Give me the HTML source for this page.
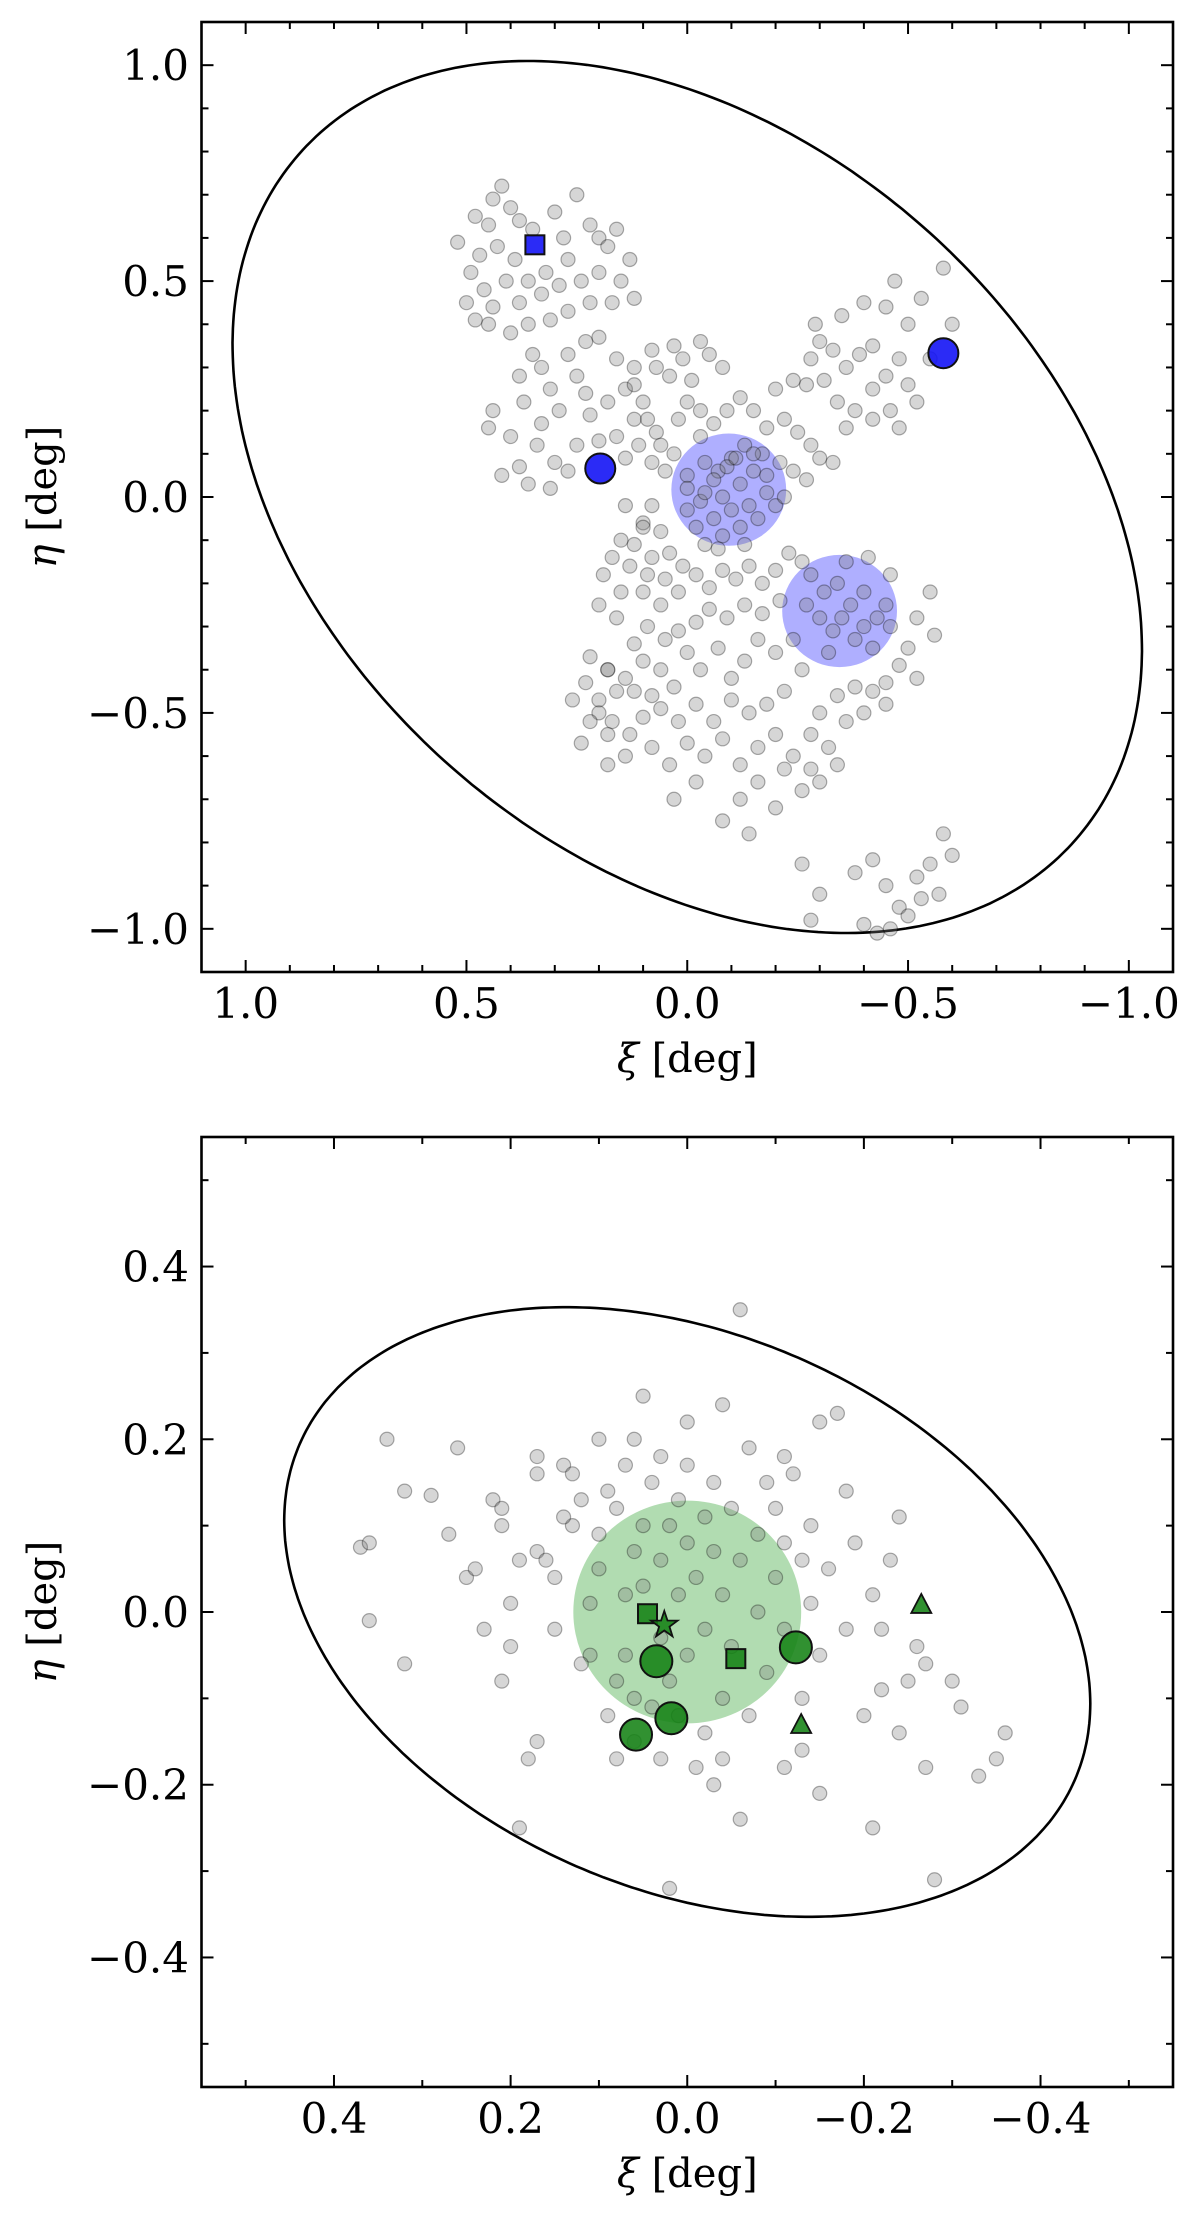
<!DOCTYPE html>
<html><head><meta charset="utf-8"><style>
html,body{margin:0;padding:0;background:#fff;}
svg{display:block;font-family:"DejaVu Serif","Liberation Serif",serif;}
</style></head><body>
<svg id="fig" width="1200" height="2224" viewBox="0 0 1200 2224" xmlns="http://www.w3.org/2000/svg"></svg>
<script>
// ---------- Panel 1 data ----------
const topGrayXi = [0.42,0.44,0.40,0.48,0.45,0.38,0.52,0.47,0.43,0.39,0.35,0.30,0.28,0.25,0.22,0.20,0.18,0.16,0.27,0.32,0.36,0.41,0.46,0.49,0.50,0.44,0.38,0.33,0.29,0.24,0.20,0.15,0.13,0.12,0.17,0.22,0.27,0.31,0.36,0.40,0.45,0.48,
0.35,0.33,0.38,0.31,0.27,0.23,0.20,0.25,0.29,0.33,0.37,0.44,0.45,0.40,0.34,0.30,0.38,0.42,0.36,0.31,0.27,0.25,0.22,0.18,0.14,0.16,0.12,0.08,0.07,0.12,0.16,0.20,0.23,0.03,0.04,0.01,-0.01,-0.03,-0.05,-0.08,
0.12,0.10,0.09,0.07,0.06,0.03,0.05,0.08,0.11,0.14,0.02,0.0,-0.03,-0.06,-0.09,-0.12,-0.15,-0.18,-0.22,-0.25,-0.28,-0.21,-0.17,-0.13,-0.10,-0.07,-0.04,0.0,-0.03,-0.30,-0.33,-0.24,-0.27,
0.0,-0.03,-0.06,-0.09,-0.12,-0.15,-0.18,-0.14,-0.10,-0.06,-0.02,0.0,-0.04,-0.08,-0.12,-0.16,-0.20,-0.08,-0.04,-0.11,-0.15,-0.18,-0.22,-0.07,-0.13,
0.06,0.10,0.12,0.15,0.08,0.04,0.01,0.05,0.09,0.13,0.17,0.19,0.15,0.10,0.06,0.02,-0.02,-0.05,-0.08,-0.11,-0.14,-0.17,-0.20,-0.23,-0.26,-0.21,-0.17,-0.13,-0.09,-0.05,-0.02,0.02,0.05,0.09,0.12,0.16,0.20,0.22,0.18,0.14,0.10,0.06,0.03,0.0,-0.03,-0.07,-0.10,-0.13,-0.16,-0.20,-0.24,-0.26,-0.22,-0.18,-0.14,-0.10,-0.06,-0.02,0.02,0.06,0.10,0.13,0.17,0.20,0.23,0.08,0.04,0.0,-0.04,-0.08,-0.12,-0.16,-0.20,-0.24,-0.28,-0.30,-0.34,-0.38,-0.42,-0.45,-0.48,-0.50,-0.46,-0.52,-0.55,-0.40,-0.36,-0.32,-0.28,-0.26,-0.16,-0.12,-0.08,-0.14,-0.20,-0.02,0.03,-0.22,-0.30,-0.34,-0.45,-0.52,-0.56,
-0.28,-0.31,-0.34,-0.37,-0.40,-0.43,-0.30,-0.33,-0.38,-0.42,-0.36,-0.41,-0.46,-0.45,-0.27,-0.32,-0.40,-0.35,
-0.26,-0.30,-0.28,-0.38,-0.42,-0.45,-0.48,-0.52,-0.55,-0.50,-0.46,-0.40,-0.43,-0.58,-0.60,-0.57,-0.53,
0.18,0.16,0.20,0.22,0.18,0.24,0.12,0.08,0.26,0.14,0.18,0.10,0.14,0.08,
-0.28,-0.30,-0.33,-0.36,-0.39,-0.42,-0.45,-0.48,-0.50,-0.52,-0.46,-0.42,-0.38,-0.34,-0.31,-0.27,-0.29,-0.35,-0.40,-0.45,-0.50,-0.53,-0.47,-0.58,-0.42,-0.55,-0.60,-0.36,-0.48,-0.20,-0.24];
const topGrayEta = [0.72,0.69,0.67,0.65,0.63,0.64,0.59,0.56,0.58,0.55,0.62,0.66,0.60,0.70,0.63,0.60,0.58,0.62,0.55,0.52,0.50,0.50,0.48,0.52,0.45,0.44,0.45,0.47,0.49,0.50,0.52,0.50,0.55,0.46,0.45,0.45,0.43,0.41,0.40,0.38,0.40,0.41,
0.33,0.30,0.28,0.25,0.33,0.36,0.37,0.28,0.20,0.17,0.22,0.20,0.16,0.14,0.12,0.08,0.07,0.05,0.03,0.02,0.06,0.12,0.19,0.22,0.25,0.32,0.30,0.34,0.30,0.18,0.14,0.13,0.24,0.35,0.28,0.32,0.27,0.36,0.33,0.30,
0.26,0.22,0.18,0.15,0.12,0.10,0.06,0.08,0.12,0.09,0.18,0.22,0.20,0.17,0.20,0.23,0.20,0.16,0.18,0.15,0.12,0.08,0.10,0.12,0.09,0.06,0.08,0.05,0.14,0.09,0.08,0.06,0.04,
0.02,-0.01,0.04,0.07,0.03,0.06,0.01,-0.02,-0.03,-0.05,-0.07,-0.03,0.01,0.00,-0.07,-0.05,-0.02,-0.09,-0.11,0.09,0.10,0.05,0.0,-0.12,-0.11,
-0.08,-0.06,-0.11,-0.10,-0.14,-0.13,-0.16,-0.19,-0.18,-0.16,-0.14,-0.18,-0.22,-0.22,-0.25,-0.22,-0.18,-0.21,-0.17,-0.19,-0.16,-0.20,-0.17,-0.13,-0.15,-0.24,-0.27,-0.25,-0.28,-0.26,-0.29,-0.31,-0.33,-0.30,-0.34,-0.28,-0.25,-0.37,-0.40,-0.42,-0.38,-0.40,-0.44,-0.36,-0.40,-0.35,-0.42,-0.38,-0.33,-0.36,-0.33,-0.40,-0.45,-0.48,-0.50,-0.47,-0.52,-0.48,-0.52,-0.49,-0.51,-0.55,-0.52,-0.47,-0.43,-0.58,-0.62,-0.57,-0.60,-0.56,-0.62,-0.58,-0.55,-0.60,-0.55,-0.50,-0.46,-0.44,-0.45,-0.43,-0.39,-0.35,-0.30,-0.28,-0.22,-0.50,-0.52,-0.58,-0.63,-0.68,-0.66,-0.70,-0.75,-0.78,-0.72,-0.66,-0.70,-0.63,-0.66,-0.62,-0.48,-0.42,-0.32,
-0.18,-0.22,-0.20,-0.25,-0.22,-0.28,-0.28,-0.31,-0.33,-0.35,-0.15,-0.14,-0.18,-0.25,-0.25,-0.36,-0.30,-0.28,
-0.85,-0.92,-0.98,-0.87,-0.84,-0.90,-0.95,-0.88,-0.85,-0.97,-1.0,-0.99,-1.01,-0.78,-0.83,-0.92,-0.93,
-0.40,-0.45,-0.50,-0.52,-0.55,-0.57,-0.45,-0.46,-0.47,-0.60,-0.62,-0.07,-0.02,-0.02,
0.32,0.36,0.34,0.30,0.33,0.35,0.28,0.32,0.26,0.22,0.20,0.18,0.20,0.22,0.27,0.26,0.40,0.42,0.45,0.44,0.40,0.46,0.50,0.53,0.25,0.32,0.40,0.16,0.16,0.25,0.27];
const topRegionXi = [-0.094,-0.345];
const topRegionEta = [0.017,-0.264];
const topRegionR = [0.13,0.13];
const topCircXi = [0.197,-0.58];
const topCircEta = [0.066,0.333];
const topSqXi = [0.345];
const topSqEta = [0.584];
const topEll = {a:1.185, b:0.822, angDeg:43.4};
const topTicks = [1.0,0.5,0.0,-0.5,-1.0];
const topTickLabels = ["1.0","0.5","0.0","\u22120.5","\u22121.0"];

// ---------- Panel 2 data ----------
const botGrayXi = [0.37,0.36,0.36,0.34,0.32,0.32,0.29,0.26,0.25,0.24,0.22,0.21,0.21,0.20,0.20,0.21,0.19,0.17,0.17,0.17,0.18,0.17,0.16,0.15,0.15,0.14,0.13,0.13,0.12,0.11,0.11,0.10,0.10,0.09,0.09,0.08,0.08,0.07,0.07,0.07,0.06,0.06,0.06,0.05,0.05,0.04,0.04,0.03,0.03,0.03,0.02,0.02,0.01,0.01,0.0,0.0,0.0,-0.01,-0.01,-0.02,-0.02,-0.03,-0.03,-0.04,-0.04,-0.05,-0.05,-0.06,-0.06,-0.07,-0.07,-0.08,-0.08,-0.09,-0.09,-0.10,-0.10,-0.11,-0.11,-0.12,-0.13,-0.13,-0.14,-0.14,-0.15,-0.15,-0.16,-0.17,-0.18,-0.19,-0.20,-0.21,-0.22,-0.22,-0.23,-0.24,-0.25,-0.26,-0.27,-0.27,-0.28,-0.30,-0.31,-0.33,-0.35,-0.36,-0.21,-0.15,-0.13,-0.11,-0.06,0.01,0.03,0.08,0.12,0.06,-0.02,0.02,-0.03,0.05,0.0,-0.04,0.10,-0.11,0.14,0.19,-0.18,-0.24,0.23,0.27,-0.04];
const botGrayEta = [0.075,0.08,-0.01,0.20,0.14,-0.06,0.135,0.19,0.04,0.05,0.13,0.12,0.10,0.01,-0.04,-0.08,-0.25,0.18,0.16,-0.15,-0.17,0.07,0.06,0.04,-0.02,0.17,0.16,0.10,0.13,0.01,-0.05,0.05,0.09,0.14,-0.12,0.12,-0.08,0.02,0.17,-0.05,0.07,0.20,-0.10,0.10,0.03,0.15,-0.11,0.06,-0.03,0.18,0.10,-0.08,0.13,0.02,-0.05,0.08,0.17,-0.18,0.04,0.11,-0.02,0.15,0.07,-0.10,0.02,0.12,-0.04,0.06,0.35,0.19,-0.12,0.09,0.00,0.15,-0.07,0.04,0.12,-0.02,0.08,0.16,0.06,-0.10,0.01,0.10,0.22,-0.05,0.05,0.23,-0.02,0.08,-0.12,0.02,-0.02,-0.09,0.06,-0.14,-0.08,-0.04,-0.06,-0.18,-0.31,-0.08,-0.11,-0.19,-0.17,-0.14,-0.25,-0.21,-0.16,-0.18,-0.24,-0.12,-0.17,-0.17,-0.06,-0.15,-0.14,-0.32,-0.20,0.25,0.22,0.24,0.20,0.18,0.11,0.06,0.14,0.11,-0.02,0.09,-0.17];
const botRegionXi = [0.0];
const botRegionEta = [0.0];
const botRegionR = [0.129];
const botCircXi = [0.035,0.018,0.058,-0.123];
const botCircEta = [-0.057,-0.123,-0.142,-0.041];
const botSqXi = [0.045,-0.055];
const botSqEta = [-0.002,-0.054];
const botStarXi = [0.026];
const botStarEta = [-0.015];
const botTriXi = [-0.265,-0.129];
const botTriEta = [0.007,-0.132];
const botEll = {a:0.480, b:0.320, angDeg:24.6};
const botTicks = [0.4,0.2,0.0,-0.2,-0.4];
const botTickLabels = ["0.4","0.2","0.0","\u22120.2","\u22120.4"];

const NS = "http://www.w3.org/2000/svg";
const svg = document.getElementById('fig');
function mk(tag, attrs, parent){
  const e = document.createElementNS(NS, tag);
  for (const k in attrs) e.setAttribute(k, attrs[k]);
  (parent||svg).appendChild(e);
  return e;
}

function panel(cfg){
  const g = mk('g', {});
  
  
  const X0=cfg.x0, X1=cfg.x1, Y0=cfg.y0, Y1=cfg.y1, L=cfg.lim;
  const sx = v => X0 + (L - v) / (2*L) * (X1 - X0);   // xi reversed
  const sy = v => Y0 + (L - v) / (2*L) * (Y1 - Y0);
  const kx = (X1-X0)/(2*L), ky = (Y1-Y0)/(2*L);
  const e = cfg.ell, th = e.angDeg*Math.PI/180;
  let d = '';
  for (let i=0;i<=360;i++){
    const t=i*Math.PI/180;
    const xi = e.a*Math.cos(t)*Math.cos(th) - e.b*Math.sin(t)*Math.sin(th);
    const et = e.a*Math.cos(t)*Math.sin(th) + e.b*Math.sin(t)*Math.cos(th);
    d += (i?'L':'M') + sx(xi).toFixed(1) + ' ' + sy(et).toFixed(1);
  }
  const ell = mk('path', {d:d+'Z', fill:'none', stroke:'#000', 'stroke-width':2.6}, g);
  
  
  cfg.regXi.forEach((v,i)=>{
    const c = mk('ellipse', {cx:sx(v), cy:sy(cfg.regEta[i]), rx:cfg.regR[i]*kx, ry:cfg.regR[i]*ky, fill:cfg.regColor}, g);
    
    
  });
  cfg.grayXi.forEach((v,i)=>{
    const c = mk('circle', {cx:sx(v), cy:sy(cfg.grayEta[i]), r:7, fill:'rgba(128,128,128,0.32)', stroke:'rgba(0,0,0,0.32)', 'stroke-width':1.2}, g);
    
    
  });
  const fc = cfg.markColor;
  (cfg.circXi||[]).forEach((v,i)=>{
    const c = mk('circle', {cx:sx(v), cy:sy(cfg.circEta[i]), r:cfg.circR, fill:fc, stroke:'#111', 'stroke-width':2}, g);
    
    
  });
  (cfg.sqXi||[]).forEach((v,i)=>{
    const s=cfg.sqS;
    const c = mk('rect', {x:sx(v)-s/2, y:sy(cfg.sqEta[i])-s/2, width:s, height:s, fill:fc, stroke:'#111', 'stroke-width':2}, g);
    
    
  });
  (cfg.starXi||[]).forEach((v,i)=>{
    const cx=sx(v), cy=sy(cfg.starEta[i]); let p='';
    for(let k=0;k<10;k++){const r=k%2?5.5:14; const a=-Math.PI/2+k*Math.PI/5; p+=(cx+r*Math.cos(a)).toFixed(1)+','+(cy+r*Math.sin(a)).toFixed(1)+' ';}
    const c = mk('polygon', {points:p, fill:fc, stroke:'#111', 'stroke-width':1.8}, g);
    
    
  });
  (cfg.triXi||[]).forEach((v,i)=>{
    const cx=sx(v), cy=sy(cfg.triEta[i]);
    const p=`${cx},${cy-12} ${cx+10},${cy+7} ${cx-10},${cy+7}`;
    const c = mk('polygon', {points:p, fill:fc, stroke:'#111', 'stroke-width':1.8}, g);
    
    
  });
  const fr = mk('rect', {x:X0, y:Y0, width:X1-X0, height:Y1-Y0, fill:'none', stroke:'#000', 'stroke-width':2.6}, g);
  
  
  const tg = mk('g', {stroke:'#000', 'stroke-width':2}, g);
  
  
  for (let k=-Math.floor(L/cfg.minor+1e-9); k<=Math.floor(L/cfg.minor+1e-9); k++){
    const v = k*cfg.minor;
    const major = Math.abs(v/cfg.major - Math.round(v/cfg.major))<1e-6;
    const len = major?12:7;
    const x=sx(v), y=sy(v);
    mk('line',{x1:x,y1:Y1,x2:x,y2:Y1-len},tg);
    mk('line',{x1:x,y1:Y0,x2:x,y2:Y0+len},tg);
    mk('line',{x1:X0,y1:y,x2:X0+len,y2:y},tg);
    mk('line',{x1:X1,y1:y,x2:X1-len,y2:y},tg);
  }
  cfg.ticks.forEach((v,i)=>{
    const t = mk('text',{x:sx(v), y:Y1+46, 'text-anchor':'middle', 'font-size':42},g);
    t.textContent = cfg.tickLabels[i];
    
    
    const u = mk('text',{x:189, y:sy(v)+15, 'text-anchor':'end', 'font-size':42},g);
    u.textContent = cfg.tickLabels[i];
    
    
  });
  const xl = mk('text',{x:(X0+X1)/2, y:Y1+100, 'text-anchor':'middle', 'font-size':40},g);
  xl.innerHTML = '<tspan font-style="italic">\u03be</tspan> [deg]';
  
  
  const yc=(Y0+Y1)/2;
  const yl = mk('text',{x:56, y:yc, 'text-anchor':'middle', 'font-size':40, transform:`rotate(-90 56 ${yc})`},g);
  yl.innerHTML = '<tspan font-style="italic">\u03b7</tspan> [deg]';
  
  
}

panel({name:'top-panel', x0:201.5, x1:1173, y0:22, y1:972, lim:1.1, major:0.5, minor:0.1,
  ell:topEll, regXi:topRegionXi, regEta:topRegionEta, regR:topRegionR, regColor:'rgba(110,110,255,0.55)',
  grayXi:topGrayXi, grayEta:topGrayEta, markColor:'rgba(20,20,245,0.9)', circXi:topCircXi, circEta:topCircEta, circR:15,
  sqXi:topSqXi, sqEta:topSqEta, sqS:19, ticks:topTicks, tickLabels:topTickLabels});
panel({name:'bottom-panel', x0:201.5, x1:1173, y0:1137, y1:2087, lim:0.55, major:0.2, minor:0.1,
  ell:botEll, regXi:botRegionXi, regEta:botRegionEta, regR:botRegionR, regColor:'rgba(100,185,100,0.5)',
  grayXi:botGrayXi, grayEta:botGrayEta, markColor:'rgba(20,130,20,0.88)', circXi:botCircXi, circEta:botCircEta, circR:16,
  sqXi:botSqXi, sqEta:botSqEta, sqS:19, starXi:botStarXi, starEta:botStarEta, triXi:botTriXi, triEta:botTriEta,
  ticks:botTicks, tickLabels:botTickLabels});
</script>
</body></html>
